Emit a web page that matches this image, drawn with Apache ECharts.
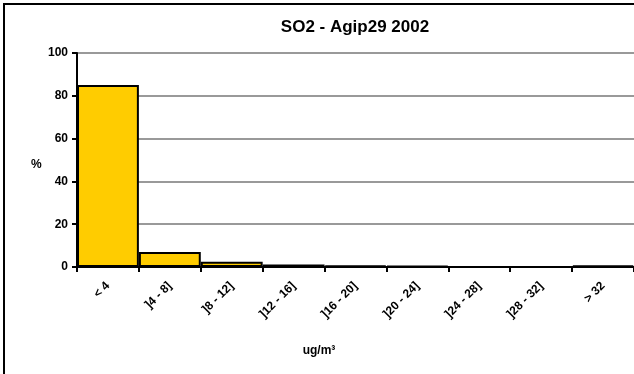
<!DOCTYPE html>
<html><head><meta charset="utf-8">
<script src="https://cdn.jsdelivr.net/npm/echarts@6/dist/echarts.min.js"></script>
<style>
html,body{margin:0;padding:0;background:#fff;overflow:hidden}
#frame{position:absolute;left:3px;top:3px;width:700px;height:500px;border:2px solid #000;box-sizing:border-box}
#c{position:absolute;left:0;top:0;width:634px;height:374px}
</style></head>
<body>
<div id="frame"></div>
<div id="c"></div>
<script>
var categories = ['< 4', ']4 - 8]', ']8 - 12]', ']12 - 16]', ']16 - 20]', ']20 - 24]', ']24 - 28]', ']28 - 32]', '> 32'];
var values = [85, 7, 2.5, 1.2, 0.6, 0.5, 0.1, 0.1, 0.7];
var titleText = 'SO2 - Agip29 2002';
var yName = '%';
var xName = 'ug/m³';
var font = '"Liberation Sans", Arial, sans-serif';

var chart = echarts.init(document.getElementById('c'), null, {renderer:'canvas'});
chart.setOption({
  animation:false,
  backgroundColor:'transparent',
  title:{text:titleText, left:350, textAlign:'center', top:14,
    textStyle:{fontFamily:font, fontWeight:'bold', fontSize:17, color:'#000'}},
  grid:{left:77, top:53, width:558, height:214, containLabel:false},
  xAxis:{type:'category', data:categories, boundaryGap:true,
    axisLine:{lineStyle:{color:'#000', width:2}},
    axisTick:{show:true, alignWithLabel:false, length:5, lineStyle:{color:'#000', width:2}},
    axisLabel:{rotate:45, interval:0, margin:17, fontFamily:font, fontWeight:'bold', fontSize:12, color:'#000'}},
  yAxis:{type:'value', min:0, max:100, interval:20,
    axisLine:{show:true, lineStyle:{color:'#000', width:2}},
    axisTick:{show:true, length:5, lineStyle:{color:'#000', width:2}},
    splitLine:{show:true, lineStyle:{color:'#999', width:2}},
    axisLabel:{margin:9, fontFamily:font, fontWeight:'bold', fontSize:12, color:'#000'}},
  series:[{type:'bar', data:values, barCategoryGap:'0%',
    itemStyle:{color:'#FFCC00', borderColor:'#000', borderWidth:2}}],
  graphic:[
    {type:'text', left:31, top:159, style:{text:yName, font:'bold 12px '+font, fill:'#000'}},
    {type:'text', x:319, y:351, style:{text:xName, font:'bold 12px '+font, fill:'#000', textAlign:'center', textVerticalAlign:'middle'}}
  ]
});
</script>
</body></html>
